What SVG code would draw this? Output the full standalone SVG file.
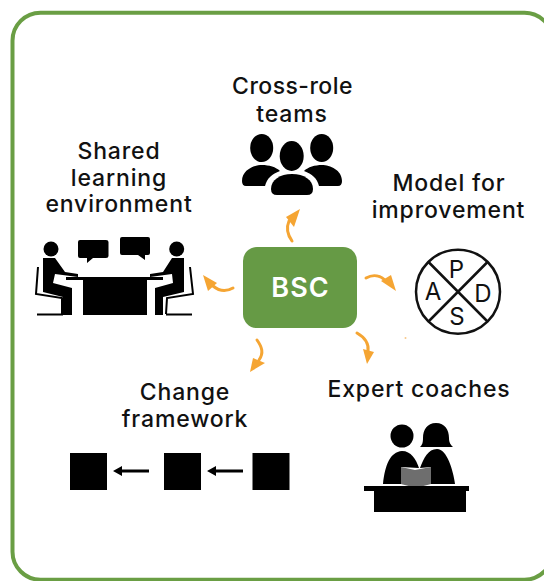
<svg xmlns="http://www.w3.org/2000/svg" width="544" height="581" viewBox="0 0 544 581">
<style>
.t{font-family:"Inter","Noto Sans",sans-serif;font-size:23px;font-weight:500;letter-spacing:.85px;fill:#111;text-anchor:middle}
.o{fill:#f5a533}
.s{fill:none;stroke:#f5a533;stroke-width:3;stroke-linecap:round}
.k{fill:#000}
.l{fill:none;stroke:#000;stroke-width:2}
.p{font-family:"Inter","Noto Sans",sans-serif;font-size:24px;font-weight:400;fill:#111;text-anchor:middle}
</style>
<rect width="544" height="581" fill="#fff"/>
<rect id="frame" x="12.500" y="12.700" width="540" height="567" rx="28" fill="none" stroke="#6a9e44" stroke-width="4"/>
<g id="bsc"><rect x="243" y="247" width="114" height="81" rx="14" fill="#669a45"/><text x="300.500" y="297" font-family="Inter,'Noto Sans',sans-serif" font-size="27" font-weight="600" letter-spacing="1" fill="#fff" text-anchor="middle">BSC</text></g>
<g id="teams">
<text class="t" x="292.500" y="94" style="letter-spacing:.45px">Cross-role</text><text class="t" x="292" y="122">teams</text>
<ellipse class="k" cx="261.700" cy="148" rx="11.500" ry="14"/><ellipse class="k" cx="321.700" cy="148" rx="11.500" ry="14"/><ellipse class="k" cx="291.700" cy="156" rx="12" ry="15"/>
<path class="k" d="M242 181C242 170 254 165 262 165C269 165 276 167 280 171C272 174 267 178 265 186H246Q242 186 242 181Z"/>
<path class="k" d="M342 181C342 170 330 165 322 165C315 165 308 167 304 171C312 174 317 178 319 186H338Q342 186 342 181Z"/>
<path class="k" d="M271 189C271 180 280 174 292 174C304 174 313 180 313 189Q313 195 307 195H277Q271 195 271 189Z"/>
</g>
<g id="shared">
<text class="t" x="119" y="159">Shared</text><text class="t" x="119" y="186">learning</text><text class="t" x="119" y="212">environment</text>
<circle class="k" cx="51" cy="249" r="7.500"/><circle class="k" cx="176.700" cy="249" r="7.500"/>
<path class="k" d="M80 240H106Q108.500 240 108.500 242V256Q108.500 258 106 258H93L87 263V258H80Q78 258 78 256V242Q78 240 80 240Z"/>
<path class="k" d="M122 237H148Q150 237 150 239V253Q150 255 148 255H145V260L138 255H122Q120 255 120 253V239Q120 237 122 237Z"/>
<path class="k" d="M66 277H163V280H147V315H83V280H66Z"/>
<path class="k" d="M43 258H55L65 272L78 274V277L55 274L53 283L72 288V315H63V297L43 292Z"/>
<path class="k" d="M184 258H172L163 272L150 274V277L172 274L173 283L155 288V315H163V297L184 292Z"/>
<path class="l" d="M38 267L36 294L62 298V314M37 314.500H63M190 267L193 294L167 298L166 314M166 314.500H192"/>
</g>
<g id="model">
<text class="t" x="449" y="191">Model for</text><text class="t" x="448.500" y="218">improvement</text>
<circle cx="458" cy="291.700" r="42" fill="#fff" stroke="#111" stroke-width="2.500"/>
<path d="M428.500 262L487.500 321.500M487.500 262L428.500 321.500" stroke="#111" stroke-width="2.500"/>
<text class="p" x="456.500" y="277.500">P</text><text class="p" x="433" y="300">A</text><text class="p" x="483" y="301.500">D</text><text class="p" x="457" y="325">S</text>
</g>
<g id="coaches">
<text class="t" x="419" y="397">Expert coaches</text>
<circle class="k" cx="402" cy="436" r="11.500"/>
<path class="k" d="M436 423C445 423 449 430 449 438C449 443 451 445 453 447H420C422 445 423 443 423 438C423 430 427 423 436 423Z"/>
<path class="k" d="M383 484C385 465 390 452 402 451C411 451 416 459 419 468L401 467V484Z"/>
<path class="k" d="M420 468C424 458 428 449 437 449C447 449 453 470 455 484H431V467Z"/>
<path fill="#6e6e6e" d="M401 467L415 470L431 467V484L416 488L401 484Z"/>
<path class="k" d="M364 486H469V491H466V512H374V491H364Z"/>
</g>
<g id="change">
<text class="t" x="185" y="400">Change</text><text class="t" x="185" y="427">framework</text>
<rect class="k" x="70" y="453" width="37" height="37"/><rect class="k" x="164" y="453" width="37" height="37"/><rect class="k" x="252.500" y="453" width="37" height="37"/>
</g>
<g id="connectors">
<path d="M149 471H118M243 471H212" stroke="#000" stroke-width="3"/>
<path class="k" d="M113 471L122 466V476ZM207 471L216 466V476Z"/>
<path class="s" d="M292 241C287 234 286 228 289 221"/><path class="o" d="M300 209L286 217L294 227Z"/>
<path class="s" d="M366 278C373 274 381 275 387 282"/><path class="o" d="M396 291L381 281L391 275Z"/>
<path class="s" d="M357 333C364 337 369 343 368 351"/><path class="o" d="M367 364L363 349L374 352Z"/>
<path class="s" d="M257 340C262 347 264 353 259 360"/><path class="o" d="M250 372L253 358L265 363Z"/>
<path class="s" d="M233 288C226 292 219 291 213 286"/><path class="o" d="M203 275L208 291L217 283Z"/>
<circle cx="405.500" cy="338" r="1" fill="#f8c88a"/>
</g>
</svg>
